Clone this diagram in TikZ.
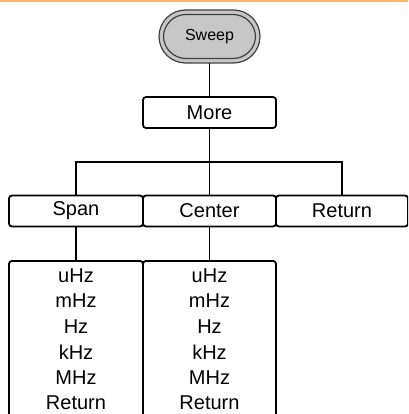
\documentclass[tikz,border=0pt]{standalone}
\usepackage{fontspec}
\setmainfont{Liberation Sans}
\begin{document}
\begin{tikzpicture}[x=1pt,y=-1pt,
  box/.style={draw=black,line width=1.8pt,rounded corners=3pt,fill=white,inner sep=0pt,font=\fontsize{20}{22}\selectfont},
  conn/.style={draw=black,line width=1.8pt},
  pillline/.style={draw=black!75,line width=1.2pt}]
\useasboundingbox (0,0) rectangle (408,414);
\fill[orange!60!white] (0,0) rectangle (408,2.5);
\begin{scope}
\clip (0,0) rectangle (408,414);
% Sweep pill
\draw[pillline,fill=black!22,rounded corners=26.5pt] (159,10) rectangle (260,63);
\draw[pillline,rounded corners=22.5pt] (163.5,14.5) rectangle (255.5,58.5);
\node[font=\fontsize{16}{18}\selectfont] (sweep) at (209.5,36.5) {Sweep};
\coordinate (sweepb) at (209.5,63);
% More
\node[box,minimum width=133pt,minimum height=31pt] (more) at (209.5,112.5) {More};
% row 2
\node[box,minimum width=134pt,minimum height=31pt] (span) at (76,211) {Span};
\node[box,minimum width=133pt,minimum height=31pt] (center) at (209.5,211) {Center};
\node[box,minimum width=132pt,minimum height=31pt] (ret) at (342,211) {Return};
% row 3
\node[box,minimum width=134pt,minimum height=170pt,anchor=north] (spanlist) at (76,260) {};
\node[box,minimum width=133pt,minimum height=170pt,anchor=north] (centerlist) at (209.5,260) {};
\foreach \n/\x in {spanlist/76,centerlist/209.5}{
  \foreach \t [count=\i from 0] in {uHz,mHz,Hz,kHz,MHz,Return}{
    \node[font=\fontsize{20}{22}\selectfont,inner sep=0pt] at (\x,275.5+25.5*\i) {\t};
  }
}
% connectors
\draw[conn] (sweepb) -- (more.north);
\coordinate (bus) at (209.5,162);
\draw[conn] (more.south) -- (bus);
\draw[conn] (span.north) |- (bus) -| (ret.north);
\draw[conn] (bus) -- (center.north);
\draw[conn] (span.south) -- (spanlist.north);
\draw[conn] (center.south) -- (centerlist.north);
\end{scope}
\end{tikzpicture}
\end{document}
